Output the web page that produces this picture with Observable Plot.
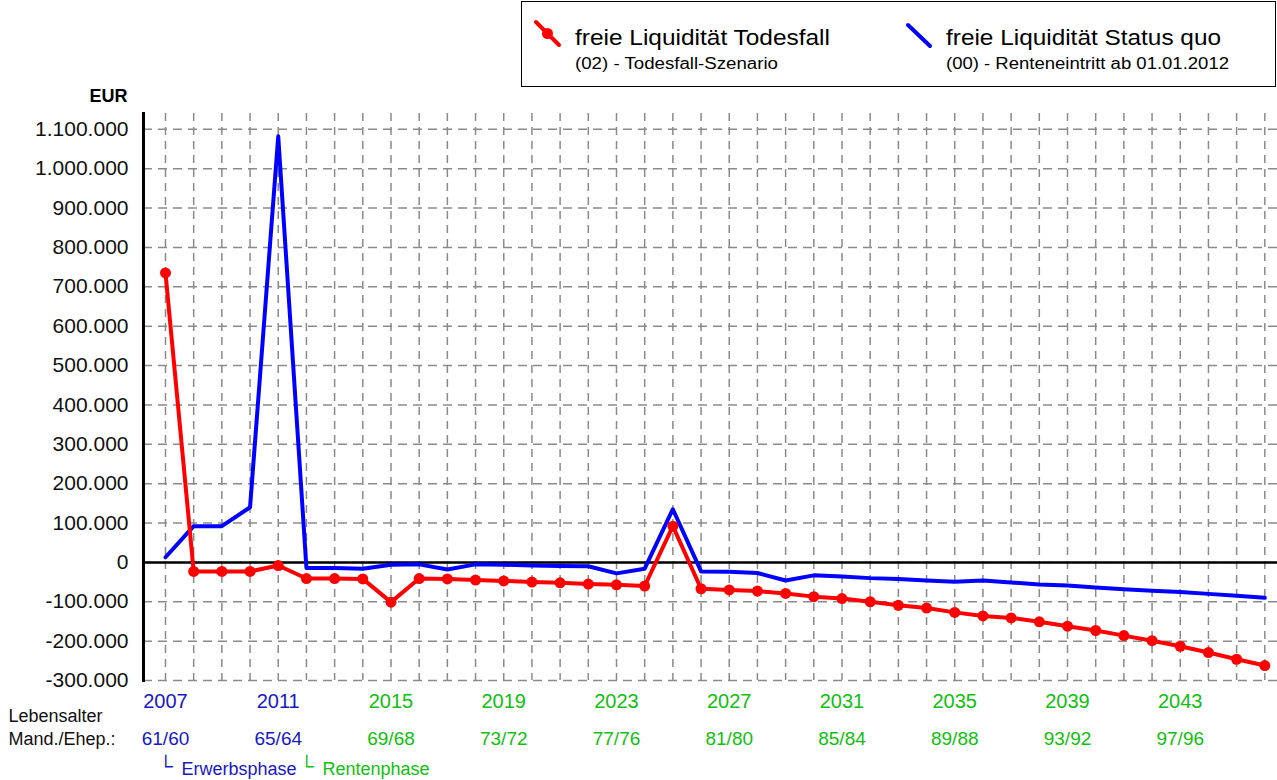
<!DOCTYPE html>
<html>
<head>
<meta charset="utf-8">
<script src="https://cdn.jsdelivr.net/npm/d3@7"></script>
<script src="https://cdn.jsdelivr.net/npm/@observablehq/plot@0.6"></script>
<style>
  html, body { margin: 0; padding: 0; background: #fff; overflow: hidden; }
  #wrap { position: relative; width: 1277px; height: 780px; }
  #legend { position: absolute; left: 0; top: 0; }
  svg { display: block; }
</style>
</head>
<body>
<div id="wrap">
  <div id="chart"></div>
  <svg id="legend" width="1277" height="90" style="pointer-events:none">
    <rect x="521.5" y="1.5" width="754" height="85" fill="#fff" stroke="#000" stroke-width="1"/>
    <line x1="536" y1="22" x2="559" y2="45" stroke="#ff0000" stroke-width="4" stroke-linecap="round"/>
    <circle cx="547.5" cy="33.5" r="5.5" fill="#ff0000"/>
    <text x="575" y="45" font-family="Liberation Sans, Arial, sans-serif" font-size="22" textLength="255" lengthAdjust="spacingAndGlyphs" fill="#000">freie Liquidität Todesfall</text>
    <text x="575" y="69" font-family="Liberation Sans, Arial, sans-serif" font-size="16" textLength="203" lengthAdjust="spacingAndGlyphs" fill="#000">(02) - Todesfall-Szenario</text>
    <line x1="908" y1="25" x2="930" y2="46" stroke="#0000ff" stroke-width="4" stroke-linecap="round"/>
    <text x="946" y="45" font-family="Liberation Sans, Arial, sans-serif" font-size="22" textLength="275" lengthAdjust="spacingAndGlyphs" fill="#000">freie Liquidität Status quo</text>
    <text x="946" y="69" font-family="Liberation Sans, Arial, sans-serif" font-size="16" textLength="283" lengthAdjust="spacingAndGlyphs" fill="#000">(00) - Renteneintritt ab 01.01.2012</text>
  </svg>
</div>
<script>
// ---- data ----
const years = [2007, 2008, 2009, 2010, 2011, 2012, 2013, 2014, 2015, 2016,
               2017, 2018, 2019, 2020, 2021, 2022, 2023, 2024, 2025, 2026,
               2027, 2028, 2029, 2030, 2031, 2032, 2033, 2034, 2035, 2036,
               2037, 2038, 2039, 2040, 2041, 2042, 2043, 2044, 2045, 2046];

const todesfall = [735000, -23000, -23000, -23000, -8000, -41000, -41000, -42000, -101000, -41000,
                   -42000, -45000, -47000, -50000, -52000, -55000, -57000, -60000, 92000, -67000,
                   -70000, -73000, -79000, -87000, -92000, -100000, -109000, -116000, -127000, -136000,
                   -141000, -151000, -162000, -173000, -186000, -199000, -213000, -229000, -246000, -262000];

const statusQuo = [13000, 92000, 92000, 140000, 1082000, -14000, -14000, -16000, -6000, -5000,
                   -18000, -5000, -6000, -8000, -9000, -10000, -28000, -16000, 135000, -23000,
                   -24000, -27000, -46000, -33000, -36000, -40000, -42000, -46000, -49000, -46000,
                   -51000, -56000, -59000, -64000, -68000, -72000, -75000, -80000, -85000, -90000];

const yTicks = [-300000, -200000, -100000, 0, 100000, 200000, 300000, 400000,
                500000, 600000, 700000, 800000, 900000, 1000000, 1100000];

const tickYears = [2007, 2011, 2015, 2019, 2023, 2027, 2031, 2035, 2039, 2043];
const ageLabels = ["61/60", "65/64", "69/68", "73/72", "77/76", "81/80", "85/84", "89/88", "93/92", "97/96"];
const tickPhase = ["E", "E", "R", "R", "R", "R", "R", "R", "R", "R"];

const phaseYears = [2007, 2012];
const phaseNames = ["Erwerbsphase", "Rentenphase"];
const phaseKeys = ["E", "R"];

const rowLabels = ["Lebensalter", "Mand./Ehep.:"];

// ---- styling ----
const BLUE_TXT = "#1818c8";
const GREEN_TXT = "#10c010";
const phaseColor = k => (k === "E" ? BLUE_TXT : GREEN_TXT);

const de = d3.formatLocale({decimal: ",", thousands: ".", grouping: [3], currency: ["", " €"], minus: "-"});
const fmt = de.format(",d");

const rows = years.map((yr, i) => ({year: yr, tod: todesfall[i], sq: statusQuo[i]}));

const chart = Plot.plot({
  width: 1277,
  height: 780,
  marginLeft: 143,
  marginRight: 0,
  marginTop: 113,
  marginBottom: 100,
  x: {domain: [2006.22, 2046.45], axis: null},
  y: {domain: [-300000, 1140000], axis: null},
  color: {type: "identity"},
  style: {fontFamily: "Liberation Sans, Arial, sans-serif", background: "#fff", overflow: "visible"},
  marks: [
    // grid
    Plot.ruleY(yTicks, {y: d => d, stroke: "#8a8a8a", strokeWidth: 1.5, strokeDasharray: "9,6"}),
    Plot.ruleX(years, {x: d => d, stroke: "#8a8a8a", strokeWidth: 1.5, strokeDasharray: "8,6"}),
    // zero line and y axis line
    Plot.ruleY([0], {stroke: "#000", strokeWidth: 2.5}),
    Plot.frame({anchor: "left", stroke: "#000", strokeWidth: 3}),
    // y tick labels
    Plot.text(yTicks, {y: d => d, text: d => fmt(d), frameAnchor: "left", dx: -15,
      textAnchor: "end", fontSize: 21, fill: "#111"}),
    Plot.text(["EUR"], {frameAnchor: "top-left", dx: -16, dy: -24, textAnchor: "end",
      fontSize: 18, fontWeight: "bold", fill: "#000"}),
    // series
    Plot.line(rows, {x: "year", y: "sq", stroke: "#0000ff", strokeWidth: 4, strokeLinejoin: "round"}),
    Plot.line(rows, {x: "year", y: "tod", stroke: "#ff0000", strokeWidth: 4, strokeLinejoin: "round"}),
    Plot.dot(rows, {x: "year", y: "tod", r: 5.5, fill: "#ff0000"}),
    // x labels
    Plot.text(tickYears, {x: d => d, text: d => String(d), frameAnchor: "bottom", dy: 27,
      fontSize: 20, fill: (d, i) => phaseColor(tickPhase[i])}),
    Plot.text(tickYears, {x: d => d, text: (d, i) => ageLabels[i], frameAnchor: "bottom", dy: 64,
      fontSize: 19, fill: (d, i) => phaseColor(tickPhase[i])}),
    Plot.text([rowLabels[0]], {text: d => d, frameAnchor: "bottom-left", dx: -135, dy: 41,
      textAnchor: "start", fontSize: 18, fill: "#111"}),
    Plot.text([rowLabels[1]], {text: d => d, frameAnchor: "bottom-left", dx: -135, dy: 64,
      textAnchor: "start", fontSize: 18, fill: "#111"}),
    // phase markers
    Plot.text(phaseYears, {x: d => d, text: () => "└", frameAnchor: "bottom", dy: 92,
      dx: -7, textAnchor: "start", fontSize: 20, fill: (d, i) => phaseColor(phaseKeys[i])}),
    Plot.text(phaseYears, {x: d => d, text: (d, i) => phaseNames[i], frameAnchor: "bottom", dy: 94,
      dx: 16, textAnchor: "start", fontSize: 18, fill: (d, i) => phaseColor(phaseKeys[i])})
  ]
});
document.getElementById("chart").appendChild(chart);
</script>
</body>
</html>
